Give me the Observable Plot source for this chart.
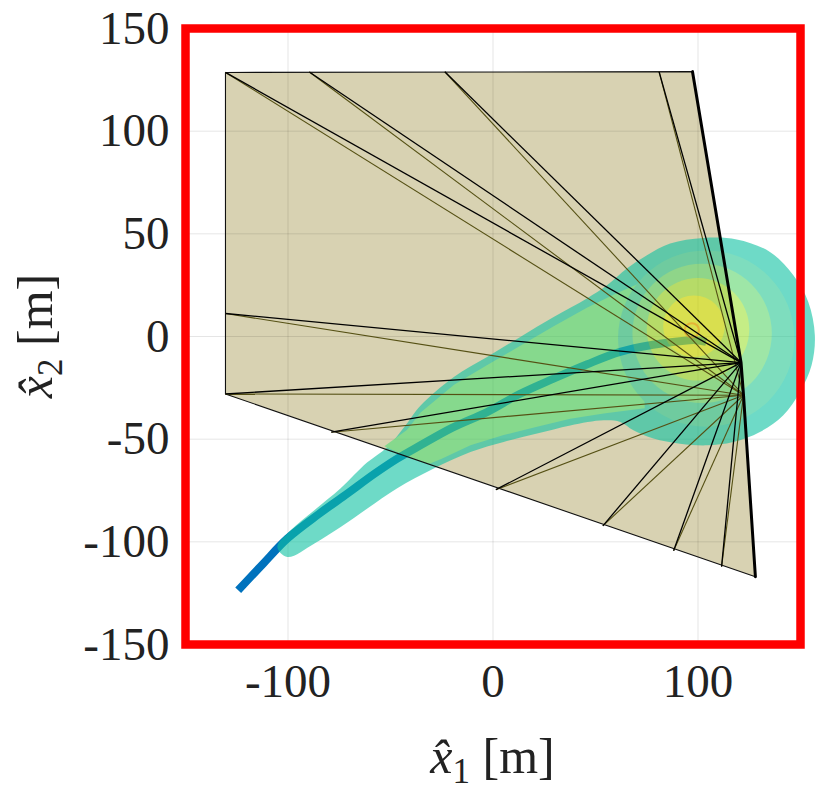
<!DOCTYPE html>
<html>
<head>
<meta charset="utf-8">
<script src="https://cdn.jsdelivr.net/npm/d3@7"></script>
<script src="https://cdn.jsdelivr.net/npm/@observablehq/plot@0.6"></script>
<style>
  body { margin: 0; background: #fff; }
  #chart svg { display: block; }
</style>
</head>
<body>
<div id="chart"></div>
<script>
// ---------- axes ----------
const xDomain = [-150, 150];
const yDomain = [-150, 150];
const xTicks = [-100, 0, 100];
const yTicks = [-150, -100, -50, 0, 50, 100, 150];
const xLabel = ["x\u0302", "1", " [m]"];
const yLabel = ["x\u0302", "2", " [m]"];

// ---------- visibility polygon ----------
const polyX = [-130.5, 97.3, 121.0, 128.0, -130.5];
const polyY = [128.6, 129.0, -12.7, -117.0, -28.0];
const rightEdgeX = [97.3, 121.0, 122.2, 128.0];
const rightEdgeY = [129.0, -12.7, -28.6, -117.0];
const apexBlackX = 121.0, apexBlackY = -12.7;
const apexOliveX = 122.2, apexOliveY = -28.6;
const fanX = [-130.5, -89.6, -23.5, 81.0, -130.5, -130.5, -78.9, 1.4, 53.6, 88.1, 111.5];
const fanY = [128.6, 128.8, 128.9, 129.0, 11.2, -28.0, -46.6, -74.6, -92.2, -104.3, -112.1];

// ---------- trajectory ----------
const trajX = [-124.3, -112, -100.3, -85, -71, -58, -46.7, -35.4, -20, -2.9, 13, 29.6, 46, 62, 78, 94.5, 99, 104];
const trajY = [-123.6, -110.5, -98.4, -86.5, -76.5, -67, -59.5, -53, -44.5, -36.8, -28, -20.5, -13.5, -7.5, -4, -1.9, -1.8, -2.6];

// ---------- reachable-set envelope (outer outline) ----------
const tubeX = [-105.2, -98.7, -87.3, -74.3, -61.3, -51.6, -42.7, -35.3, -19.1, -2.9, 13.3, 29.6, 45.8, 55.6, 65.3, 75.1, 86.4, 102.6, 118.9, 135.1, 146.5, 153.8, 157.0, 155.4, 149.7, 141.6, 130.2, 117.2, 104.3, 91.3, 78.3, 68.5, 62.1, 53.9, 37.7, 21.5, 5.2, -11.0, -28.9, -46.7, -61.3, -74.3, -87.3, -100.3];
const tubeY = [-102.5, -94.4, -84.7, -73.9, -61.3, -53.9, -43.3, -33.6, -19.7, -10.0, -0.2, 9.5, 18.5, 24.9, 33.1, 39.6, 45.3, 48.0, 47.3, 41.2, 29.8, 16.8, 0.6, -14.0, -27.0, -38.4, -46.5, -51.4, -53.0, -52.2, -49.7, -45.7, -41.6, -40.8, -43.3, -47.3, -51.4, -56.3, -64.3, -73.9, -83.8, -92.8, -100.9, -107.4];
// lighter core of the tube (inside the visibility region)
const coreX = [-53, -42, -35.3, -19, -3, 13.3, 29.6, 45.8, 60, 74, 74, 54, 37.7, 21.5, 5.2, -11, -25, -31, -42];
const coreY = [-53.5, -45.5, -37, -23.5, -14, -4.5, 5, 14, 21, 27, -35, -37.5, -40, -44, -48, -53, -59.5, -62, -58.5];
// nested levels of the final set
const ringX = [104, 102, 100, 98];
const ringY = [-1, 1.5, 3.5, 5];
const ringR = [43, 34, 25, 15];
const tubeColor = "rgb(15,195,162)";
const coreColor = "rgb(80,222,118)";
const ringColor = ["rgb(42,200,148)", "rgb(95,215,110)", "rgb(160,226,55)", "rgb(218,232,15)"];
const modeX = [97], modeY = [3], modeR = [3.5];

// ---------- tables ----------
const poly = polyX.map((x, i) => ({x, y: polyY[i]}));
const rightEdge = rightEdgeX.map((x, i) => ({x, y: rightEdgeY[i]}));
const fanBlack = fanX.map((x, i) => ({x1: apexBlackX, y1: apexBlackY, x2: x, y2: fanY[i]}));
const fanOlive = fanX.map((x, i) => ({x1: apexOliveX, y1: apexOliveY, x2: x, y2: fanY[i]}));
const traj = trajX.map((x, i) => ({x, y: trajY[i]}));
const tube = tubeX.map((x, i) => ({x, y: tubeY[i]}));
const core = coreX.map((x, i) => ({x, y: coreY[i]}));
const rings = ringX.map((x, i) => ({x, y: ringY[i], r: ringR[i], c: ringColor[i]}));
const mode = modeX.map((x, i) => ({x, y: modeY[i], r: modeR[i]}));

const W = 831, H = 793;
const mL = 185, mR = 31, mT = 28, mB = 149;
const plotW = W - mL - mR;
const FONT = "'Liberation Serif', serif";

const chart = Plot.plot({
  width: W, height: H,
  marginLeft: mL, marginRight: mR, marginTop: mT, marginBottom: mB,
  x: {domain: xDomain},
  y: {domain: yDomain},
  r: {type: "linear", domain: [0, xDomain[1] - xDomain[0]], range: [0, plotW]},
  color: {type: "identity"},
  style: {fontFamily: FONT, fontSize: "47px", color: "#222", background: "white", overflow: "visible"},
  marks: [
    Plot.line(poly, {x: "x", y: "y", fill: "rgb(216,210,178)", stroke: "none", curve: "linear-closed"}),
    Plot.gridX(xTicks, {stroke: "#000", strokeOpacity: 0.1, strokeWidth: 1}),
    Plot.gridY(yTicks, {stroke: "#000", strokeOpacity: 0.1, strokeWidth: 1}),
    Plot.line(traj, {x: "x", y: "y", stroke: "#0072BD", strokeWidth: 8, strokeLinecap: "butt", curve: "catmull-rom"}),
    Plot.line(tube, {x: "x", y: "y", fill: tubeColor, stroke: "none", curve: "catmull-rom-closed", ariaDescription: "blob"}),
    Plot.line(core, {x: "x", y: "y", fill: coreColor, stroke: "none", curve: "linear-closed", ariaDescription: "blob"}),
    Plot.dot(rings, {x: "x", y: "y", r: "r", fill: "c", stroke: "none", sort: null, ariaDescription: "blob"}),
    Plot.dot(mode, {x: "x", y: "y", r: "r", fill: "none", stroke: "rgb(235,150,40)", strokeWidth: 2, strokeOpacity: 0.6}),
    Plot.line(poly, {x: "x", y: "y", stroke: "#111", strokeWidth: 1.1, curve: "linear-closed"}),
    Plot.link(fanOlive, {x1: "x1", y1: "y1", x2: "x2", y2: "y2", stroke: "rgb(85,80,20)", strokeWidth: 1.1}),
    Plot.link(fanBlack, {x1: "x1", y1: "y1", x2: "x2", y2: "y2", stroke: "#000", strokeWidth: 1.3}),
    Plot.line(rightEdge, {x: "x", y: "y", stroke: "#000", strokeWidth: 3}),
    Plot.frame({stroke: "#ff0000", strokeWidth: 8.5}),
    Plot.axisX(xTicks, {tickSize: 0, tickPadding: 19, tickFormat: d => String(d), label: null}),
    Plot.axisY(yTicks, {tickSize: 0, tickPadding: 16, tickFormat: d => String(d), label: null})
  ]
});

// composite the reachable-set layers together with one transparency
const svg = d3.select(chart);
const blobGroups = svg.selectAll('g[aria-description="blob"]').nodes();
if (blobGroups.length) {
  const holder = document.createElementNS("http://www.w3.org/2000/svg", "g");
  holder.setAttribute("opacity", 0.6);
  blobGroups[0].parentNode.insertBefore(holder, blobGroups[0]);
  blobGroups.forEach(g => holder.appendChild(g));
}

function mathLabel(parts, x, y, rotate) {
  const t = svg.append("text")
    .attr("transform", `translate(${x},${y})` + (rotate ? " rotate(-90)" : ""))
    .attr("text-anchor", "middle")
    .attr("font-family", FONT)
    .attr("font-size", 50)
    .attr("fill", "#222");
  t.append("tspan").attr("font-style", "italic").text(parts[0]);
  t.append("tspan").attr("font-size", 35).attr("dy", 10).text(parts[1]);
  t.append("tspan").attr("dy", -10).text(parts[2]);
}
mathLabel(xLabel, mL + plotW / 2, 773, false);
mathLabel(yLabel, 52, mT + (H - mT - mB) / 2, true);

document.getElementById("chart").appendChild(chart);
</script>
</body>
</html>
